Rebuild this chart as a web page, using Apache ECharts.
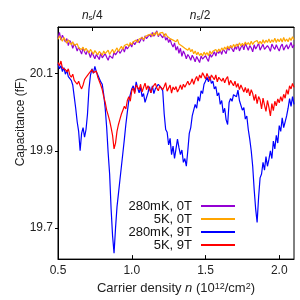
<!DOCTYPE html>
<html><head><meta charset="utf-8">
<script src="https://cdn.jsdelivr.net/npm/echarts@6/dist/echarts.min.js"></script>
<style>html,body{margin:0;padding:0;background:#fff}#c{width:300px;height:300px}</style>
</head><body><div id="c"></div>
<script>
const seriesNames = ['280mK, 0T', '5K, 0T', '280mK, 9T', '5K, 9T'];
const seriesColors = ['#9400d3', '#ffa500', '#0000ff', '#ff0000'];
const densityStart = 0.5;
const densityStep = 0.01;

const cap280mK0T = [20.192,20.206,20.186,20.199,20.195,20.181,20.190,20.172,20.185,20.178,
20.165,20.176,20.170,20.158,20.168,20.163,20.150,20.166,20.156,20.149,
20.160,20.152,20.141,20.155,20.150,20.138,20.149,20.144,20.136,20.153,
20.140,20.137,20.151,20.142,20.134,20.146,20.150,20.139,20.155,20.148,
20.144,20.160,20.152,20.158,20.166,20.155,20.170,20.163,20.160,20.176,
20.168,20.182,20.174,20.178,20.188,20.179,20.186,20.194,20.183,20.197,
20.190,20.188,20.201,20.194,20.206,20.196,20.200,20.210,20.195,20.203,
20.198,20.192,20.202,20.186,20.193,20.180,20.188,20.176,20.168,20.179,
20.160,20.170,20.152,20.165,20.144,20.158,20.150,20.138,20.149,20.143,
20.134,20.147,20.140,20.130,20.144,20.136,20.128,20.145,20.137,20.132,
20.146,20.138,20.131,20.150,20.142,20.148,20.156,20.145,20.158,20.152,
20.160,20.149,20.163,20.158,20.151,20.168,20.160,20.172,20.163,20.156,
20.170,20.162,20.176,20.158,20.167,20.174,20.161,20.178,20.169,20.160,
20.172,20.166,20.156,20.174,20.163,20.170,20.178,20.160,20.168,20.175,
20.162,20.158,20.172,20.166,20.157,20.176,20.168,20.162,20.174,20.165,
20.158,20.170,20.176,20.160,20.168,20.174,20.163,20.171,20.180,20.166,
20.174];

const cap5K0T = [20.188,20.197,20.190,20.183,20.193,20.186,20.178,20.187,20.180,20.174,
20.182,20.172,20.168,20.177,20.166,20.171,20.162,20.168,20.158,20.165,
20.160,20.153,20.162,20.156,20.150,20.159,20.154,20.148,20.157,20.152,
20.147,20.158,20.151,20.154,20.160,20.149,20.156,20.162,20.153,20.160,
20.166,20.157,20.164,20.170,20.162,20.172,20.168,20.176,20.170,20.180,
20.174,20.182,20.178,20.186,20.180,20.189,20.184,20.193,20.187,20.195,
20.190,20.199,20.194,20.202,20.196,20.205,20.199,20.208,20.198,20.204,
20.200,20.206,20.195,20.203,20.196,20.199,20.190,20.195,20.186,20.191,
20.182,20.188,20.176,20.181,20.171,20.176,20.165,20.170,20.160,20.166,
20.156,20.162,20.151,20.158,20.148,20.155,20.146,20.152,20.145,20.155,
20.148,20.154,20.146,20.158,20.150,20.157,20.153,20.162,20.155,20.163,
20.157,20.166,20.160,20.168,20.162,20.171,20.164,20.172,20.166,20.175,
20.168,20.176,20.170,20.179,20.171,20.178,20.172,20.181,20.174,20.180,
20.173,20.183,20.175,20.181,20.176,20.185,20.177,20.183,20.176,20.187,
20.178,20.186,20.180,20.189,20.179,20.187,20.181,20.191,20.180,20.189,
20.182,20.190,20.181,20.193,20.183,20.189,20.182,20.192,20.185,20.195,
20.187];

const cap280mK9T = [20.125,20.112,20.120,20.105,20.115,20.098,20.108,20.092,20.096,20.082,
20.070,20.040,20.010,19.975,19.950,19.900,19.945,19.960,19.935,19.955,
19.995,20.060,20.095,20.112,20.100,20.118,20.104,20.096,20.092,20.078,
20.072,20.045,20.010,19.960,19.895,19.840,19.750,19.680,19.635,19.700,
19.755,19.790,19.825,19.860,19.895,19.930,19.968,20.000,20.030,20.045,
20.060,20.068,20.052,20.078,20.062,20.050,20.064,20.040,20.048,20.025,
20.030,20.050,20.066,20.050,20.068,20.048,20.060,20.064,20.072,20.075,
20.062,20.055,19.995,19.955,19.948,19.915,19.932,19.890,19.912,19.880,
19.905,19.930,19.908,19.890,19.902,19.870,19.880,19.860,19.900,19.945,
19.960,19.990,19.985,20.020,20.010,20.040,20.028,20.055,20.048,20.072,
20.080,20.090,20.078,20.092,20.074,20.080,20.060,20.066,20.042,20.050,
20.020,20.030,19.998,20.010,19.980,19.968,20.025,20.035,20.028,20.045,
20.050,20.040,20.057,20.030,20.035,20.005,20.012,19.982,19.990,19.955,
19.930,19.900,19.860,19.800,19.750,19.715,19.780,19.830,19.840,19.870,
19.850,19.885,19.860,19.878,19.900,19.880,19.925,19.905,19.940,19.920,
19.965,19.950,19.985,19.960,19.975,19.990,20.010,20.035,20.015,20.040,
20.020];

const cap5K9T = [20.128,20.120,20.132,20.114,20.118,20.110,20.104,20.112,20.096,20.090,
20.098,20.082,20.086,20.072,20.080,20.068,20.060,20.070,20.084,20.090,
20.086,20.100,20.096,20.110,20.102,20.098,20.106,20.090,20.085,20.070,
20.058,20.040,20.025,20.005,19.992,19.978,19.960,19.940,19.905,19.920,
19.950,19.968,19.982,19.995,20.005,20.015,20.008,20.030,20.040,20.028,
20.055,20.062,20.048,20.070,20.066,20.058,20.072,20.052,20.064,20.075,
20.058,20.068,20.070,20.050,20.064,20.060,20.074,20.062,20.055,20.068,
20.071,20.058,20.066,20.076,20.054,20.062,20.070,20.049,20.065,20.058,
20.066,20.052,20.060,20.070,20.058,20.072,20.064,20.068,20.080,20.070,
20.076,20.086,20.072,20.084,20.092,20.080,20.096,20.088,20.102,20.094,
20.086,20.100,20.090,20.082,20.096,20.092,20.084,20.096,20.078,20.090,
20.094,20.080,20.088,20.076,20.086,20.092,20.070,20.082,20.075,20.068,
20.080,20.064,20.074,20.058,20.070,20.066,20.052,20.064,20.050,20.061,
20.042,20.058,20.048,20.030,20.046,20.022,20.040,20.032,20.008,20.036,
20.018,20.002,20.030,20.012,19.990,20.022,20.004,20.028,20.016,20.034,
20.024,20.040,20.028,20.046,20.036,20.058,20.046,20.068,20.060,20.074,
20.064];

const xTickValues = [0.5, 1.0, 1.5, 2.0];
const yTickValues = [19.7, 19.9, 20.1];
const topTickValues = [0.732, 1.464];
const topTickLabels = ['{i|n}{sub|s}/4', '{i|n}{sub|s}/2'];

const allSeries = [cap280mK0T, cap5K0T, cap280mK9T, cap5K9T];
function pairs(arr) { return arr.map((v, i) => [densityStart + i * densityStep, v]); }

const FONT = 'Liberation Sans';
const chart = echarts.init(document.getElementById('c'), null, {renderer: 'canvas'});
chart.setOption({
  animation: false,
  backgroundColor: '#fff',
  textStyle: {fontFamily: FONT},
  grid: {left: 58, right: 6, top: 27, bottom: 39, show: true, borderColor: '#000', borderWidth: 1},
  legend: {
    orient: 'vertical', right: 60, top: 194.5, align: 'right',
    icon: 'rect', itemWidth: 34, itemHeight: 2, itemGap: 0,
    textStyle: {fontSize: 13, color: '#111', fontFamily: FONT, padding: [0, 4, 0, 0], lineHeight: 13},
    data: seriesNames
  },
  xAxis: [{
    type: 'value', min: 0.5, max: 2.1, position: 'bottom',
    axisLine: {show: true, onZero: false, lineStyle: {color: '#000', width: 1}},
    axisTick: {show: true, inside: true, length: 4, customValues: xTickValues, lineStyle: {color: '#000'}},
    axisLabel: {customValues: xTickValues, formatter: v => v.toFixed(1), fontSize: 12, color: '#222', margin: 6, fontFamily: FONT},
    splitLine: {show: false},
    name: 'Carrier density {i|n} (10{sup|12}/cm{sup|2})',
    nameLocation: 'middle', nameGap: 20,
    nameTextStyle: {fontSize: 13, color: '#222', fontFamily: FONT,
      rich: {i: {fontStyle: 'italic', fontSize: 13, color: '#222', fontFamily: FONT},
             sup: {fontSize: 9, verticalAlign: 'top', color: '#222', fontFamily: FONT}}}
  }, {
    type: 'value', min: 0.5, max: 2.1, position: 'top',
    axisLine: {show: true, onZero: false, lineStyle: {color: '#000', width: 1}},
    axisTick: {show: true, inside: true, length: 4, customValues: topTickValues, lineStyle: {color: '#000'}},
    axisLabel: {customValues: topTickValues, margin: 5, fontSize: 12, color: '#222', fontFamily: FONT,
      formatter: v => topTickLabels[topTickValues.indexOf(v)] || '',
      rich: {i: {fontStyle: 'italic', fontSize: 12, color: '#222', fontFamily: FONT},
             sub: {fontSize: 8, verticalAlign: 'bottom', color: '#222', fontFamily: FONT}}},
    splitLine: {show: false}
  }],
  yAxis: [{
    type: 'value', min: 19.62, max: 20.22, position: 'left',
    axisLine: {show: true, onZero: false, lineStyle: {color: '#000', width: 1}},
    axisTick: {show: true, inside: false, length: 3, customValues: yTickValues, lineStyle: {color: '#000'}},
    axisLabel: {customValues: yTickValues, formatter: v => v.toFixed(1), fontSize: 12, color: '#222', margin: 5, fontFamily: FONT},
    splitLine: {show: false}
  }],
  graphic: [{
    type: 'text', x: 21, y: 122, rotation: Math.PI / 2,
    style: {text: 'Capacitance (fF)', fontSize: 12, fill: '#222', fontFamily: FONT, align: 'center', verticalAlign: 'middle'}
  }],
  series: allSeries.map((arr, k) => ({
    name: seriesNames[k], type: 'line', data: pairs(arr),
    xAxisIndex: 0, yAxisIndex: 0,
    showSymbol: false, symbol: 'none',
    lineStyle: {color: seriesColors[k], width: 1.2},
    itemStyle: {color: seriesColors[k]},
    z: 2 + k
  }))
});
</script></body></html>
